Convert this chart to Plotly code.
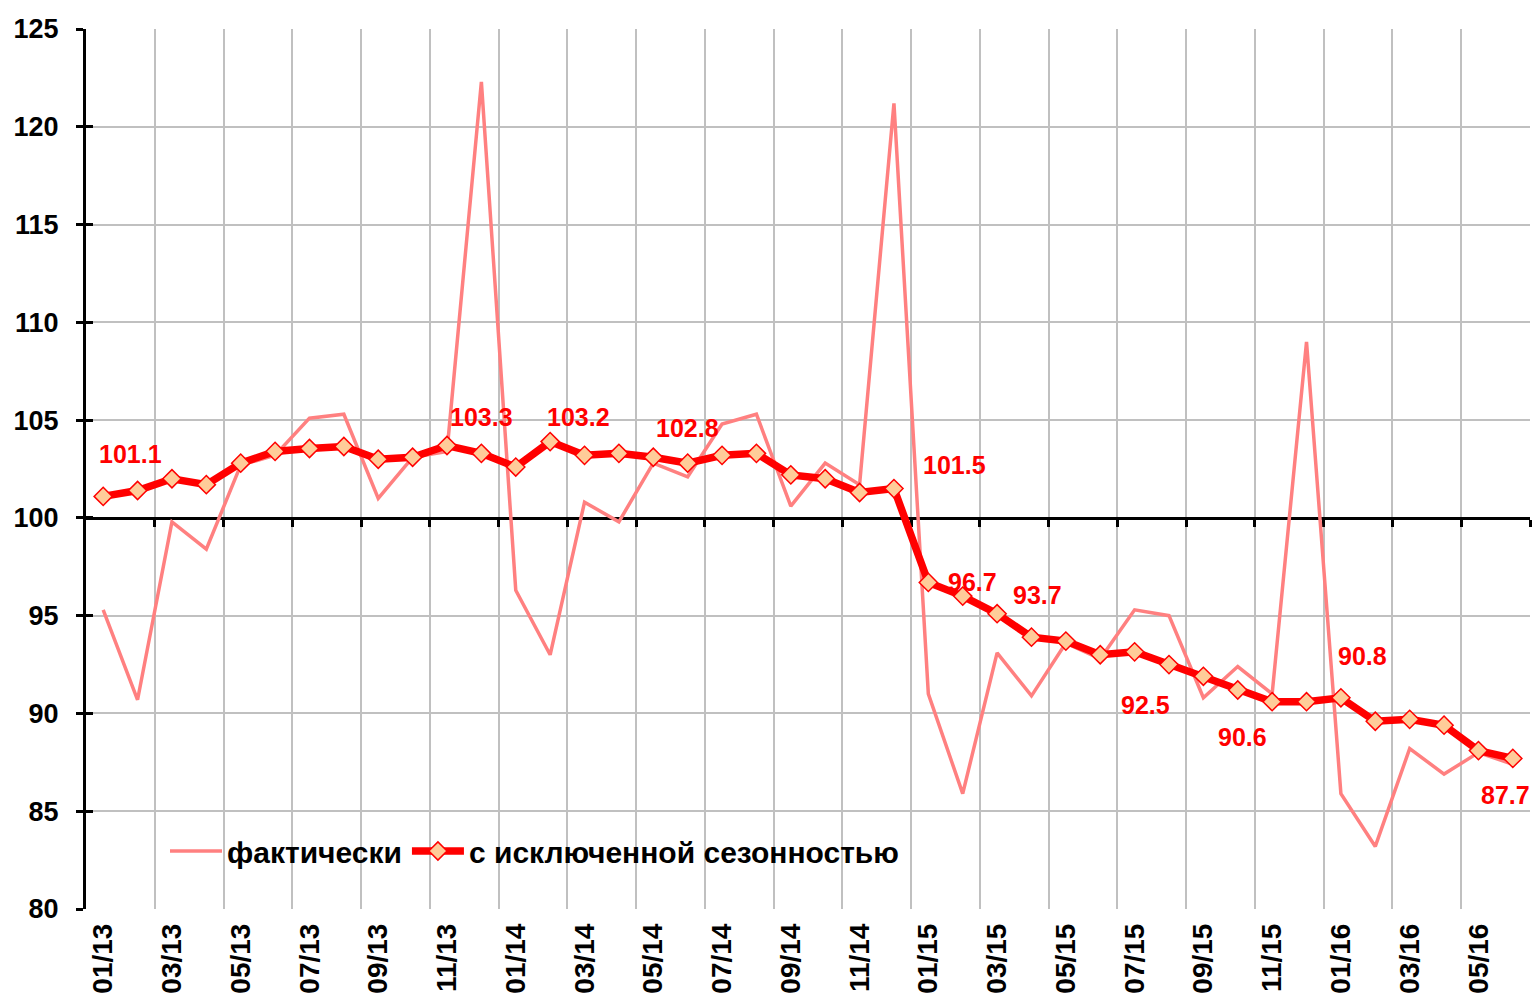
import plotly.graph_objects as go

# ---------------- data ----------------
months = ["01/13", "02/13", "03/13", "04/13", "05/13", "06/13", "07/13", "08/13", "09/13", "10/13", "11/13", "12/13",
          "01/14", "02/14", "03/14", "04/14", "05/14", "06/14", "07/14", "08/14", "09/14", "10/14", "11/14", "12/14",
          "01/15", "02/15", "03/15", "04/15", "05/15", "06/15", "07/15", "08/15", "09/15", "10/15", "11/15", "12/15",
          "01/16", "02/16", "03/16", "04/16", "05/16", "06/16"]

actual = [95.3, 90.7, 99.8, 98.4, 102.7, 103.2, 105.1, 105.3, 101.0, 103.1, 103.4, 122.3,
          96.3, 93.0, 100.8, 99.8, 102.8, 102.1, 104.8, 105.3, 100.6, 102.8, 101.7, 121.2,
          91.0, 85.9, 93.1, 90.9, 93.6, 92.8, 95.3, 95.0, 90.8, 92.4, 91.0, 109.0,
          85.9, 83.2, 88.2, 86.9, 88.0, 87.4]

seasonal_adj = [101.1, 101.4, 102.0, 101.7, 102.8, 103.4, 103.55, 103.65, 103.0, 103.1, 103.7, 103.3,
                102.6, 103.9, 103.2, 103.3, 103.1, 102.8, 103.2, 103.3, 102.2, 102.0, 101.3, 101.5,
                96.7, 96.0, 95.1, 93.9, 93.7, 93.0, 93.15, 92.5, 91.9, 91.2, 90.6, 90.6,
                90.8, 89.6, 89.7, 89.4, 88.1, 87.7]

tick_labels = ["01/13", "03/13", "05/13", "07/13", "09/13", "11/13",
               "01/14", "03/14", "05/14", "07/14", "09/14", "11/14",
               "01/15", "03/15", "05/15", "07/15", "09/15", "11/15",
               "01/16", "03/16", "05/16"]

labeled_months = ["01/13", "12/13", "03/14", "06/14", "12/14", "01/15", "05/15", "08/15", "11/15", "01/16", "06/16"]

series_names = ["фактически", "с исключенной сезонностью"]

# ---------------- styling / layout config ----------------
label_shift = {  # pixel offsets of the value labels relative to their points
    "01/13": (27, 42), "12/13": (0, 36), "03/14": (-6, 38), "06/14": (0, 35),
    "12/14": (61, 24), "01/15": (44, 0), "05/15": (-28, 46), "08/15": (-24, -40),
    "11/15": (-30, -35), "01/16": (22, 42), "06/16": (-7, -37),
}

W, H = 1534, 1006
ML, MR, MT, MB = 86, 4, 29, 97
YMIN, YMAX = 80, 125
n = len(months)
xs = list(range(n))

BOLD = "Arial, Liberation Sans, sans-serif"

fig = go.Figure()

fig.add_trace(go.Scatter(
    x=xs, y=actual, mode="lines", name=series_names[0],
    line=dict(color="#FF8080", width=3.5),
))
fig.add_trace(go.Scatter(
    x=xs, y=seasonal_adj, mode="lines+markers", name=series_names[1],
    line=dict(color="#FF0000", width=7.5),
    marker=dict(symbol="diamond", size=14, color="#FFCC99", line=dict(color="#FF0000", width=1.5)),
))
# dummy traces to realise the helper axes (the category line at 100, inner y ticks)
fig.add_trace(go.Scatter(x=[], y=[], xaxis="x2", yaxis="y", showlegend=False, hoverinfo="skip"))
fig.add_trace(go.Scatter(x=[], y=[], xaxis="x", yaxis="y2", showlegend=False, hoverinfo="skip"))

# value labels
for m in labeled_months:
    i = months.index(m)
    dx, dy = label_shift[m]
    fig.add_annotation(
        x=i, y=seasonal_adj[i], text=f"{seasonal_adj[i]:.1f}", showarrow=False,
        xshift=dx, yshift=dy, xref="x", yref="y",
        font=dict(family=BOLD, size=25, color="#FF0000", weight="bold"),
    )

boundaries = [i + 0.5 for i in range(1, n, 2)]

# white legend area
plot_w = W - ML - MR
plot_h = H - MT - MB
fig.add_shape(
    type="rect", xref="paper", yref="paper", layer="between",
    x0=(142 - ML) / plot_w, x1=(913 - ML) / plot_w,
    y0=(H - MB - 893) / plot_h, y1=(H - MB - 806) / plot_h,
    fillcolor="white", line=dict(width=0),
)

fig.update_layout(
    width=W, height=H,
    margin=dict(l=ML, r=MR, t=MT, b=MB, pad=0),
    paper_bgcolor="white", plot_bgcolor="white",
    showlegend=True,
    legend=dict(
        orientation="h", x=(165 - ML) / plot_w, xanchor="left",
        y=(H - MB - 851) / plot_h, yanchor="middle",
        bgcolor="rgba(0,0,0,0)",
        font=dict(family=BOLD, size=30, color="black", weight="bold"),
        itemwidth=52,
    ),
    xaxis=dict(
        range=[-0.5, n - 0.5], tickmode="array",
        tickvals=[months.index(t) for t in tick_labels], ticktext=tick_labels,
        tickangle=-90, showgrid=False, zeroline=False, showline=False, ticks="",
        ticklabelstandoff=8,
        tickfont=dict(family=BOLD, size=28, color="black", weight="bold"),
    ),
    xaxis2=dict(
        overlaying="x", anchor="free", position=(100 - YMIN) / (YMAX - YMIN),
        range=[-0.5, n - 0.5], tickmode="array", tickvals=boundaries,
        showticklabels=False, showgrid=True, gridcolor="#C0C0C0", gridwidth=2,
        showline=True, linecolor="black", linewidth=3,
        ticks="outside", ticklen=7, tickwidth=3, tickcolor="black",
        zeroline=False, layer="below traces",
    ),
    yaxis=dict(
        range=[YMIN, YMAX], tickmode="linear", tick0=80, dtick=5,
        showgrid=True, gridcolor="#C0C0C0", gridwidth=2, zeroline=False,
        showline=True, linecolor="black", linewidth=3,
        ticks="outside", ticklen=7, tickwidth=3, tickcolor="black",
        ticklabelstandoff=12,
        tickfont=dict(family=BOLD, size=27, color="black", weight="bold"),
    ),
    yaxis2=dict(
        overlaying="y", side="left", anchor="x",
        range=[YMIN, YMAX], tickmode="linear", tick0=80, dtick=5,
        showgrid=False, zeroline=False, showline=False, showticklabels=False,
        ticks="inside", ticklen=7, tickwidth=3, tickcolor="black",
    ),
)

fig.write_html("out.html", config={"displayModeBar": False},
               post_script="document.body.style.margin='0px';")
